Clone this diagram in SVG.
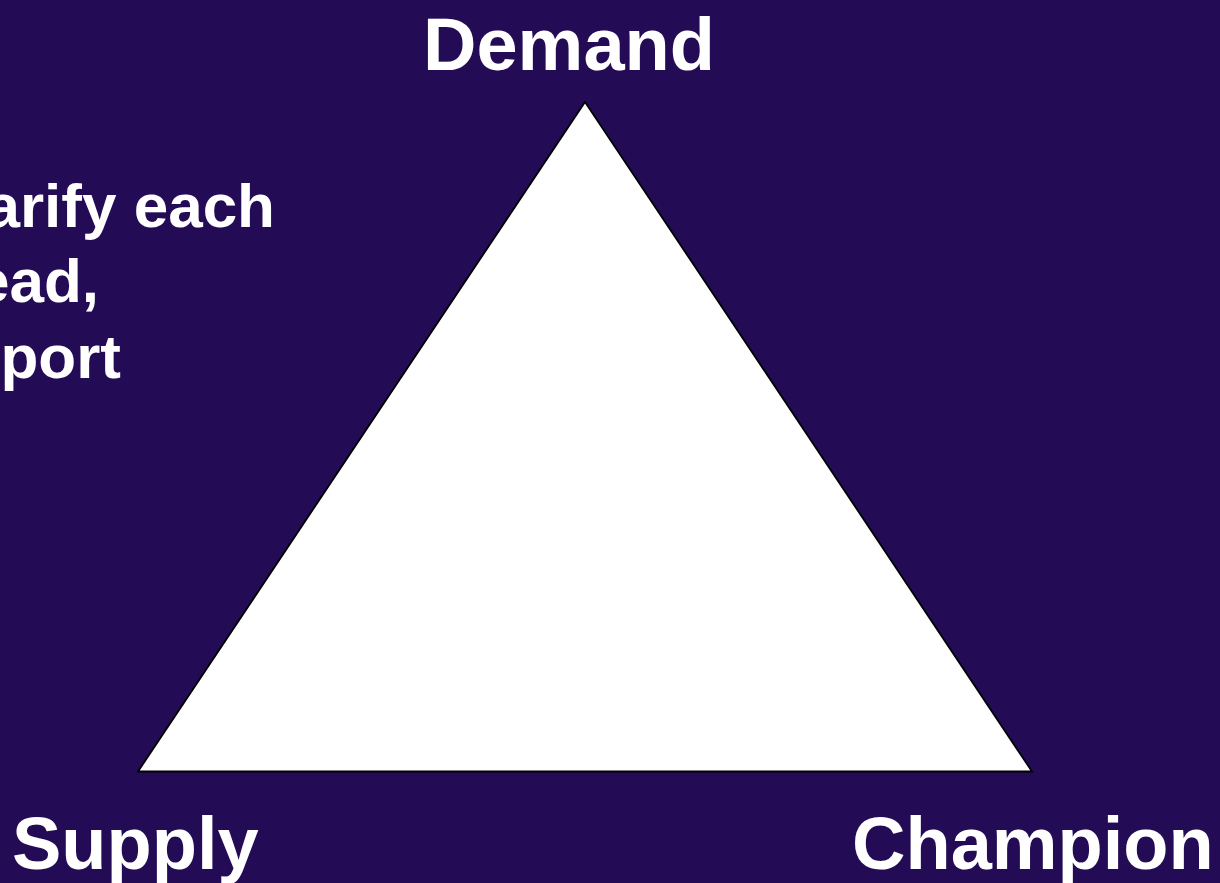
<svg xmlns="http://www.w3.org/2000/svg" width="1220" height="883" viewBox="0 0 1220 883">
  <style>
    .lbl { font-family: "Liberation Sans", Arial, sans-serif; font-weight: bold; fill: #ffffff; }
    .big { font-size: 74px; }
    .side { font-size: 62px; }
  </style>
  <rect x="0" y="0" width="1220" height="883" fill="#230C55"/>
  <g id="triangle">
    <polygon points="585,102 138,771.5 1032,771.5" fill="#ffffff" stroke="#000000" stroke-width="1.8" stroke-linejoin="miter"/>
  </g>
  <g id="side-text">
    <text class="lbl side" x="275" y="227" text-anchor="end">arify each</text>
    <text class="lbl side" x="99" y="302" text-anchor="end">ead,</text>
    <text class="lbl side" x="121" y="378" text-anchor="end">port</text>
  </g>
  <g id="node-demand">
    <text class="lbl big" x="569" y="70" text-anchor="middle">Demand</text>
  </g>
  <g id="node-supply">
    <text class="lbl big" x="12" y="869">Supply</text>
  </g>
  <g id="node-champion">
    <text class="lbl big" x="852" y="869">Champion</text>
  </g>
  <g id="connectors"></g>
</svg>
